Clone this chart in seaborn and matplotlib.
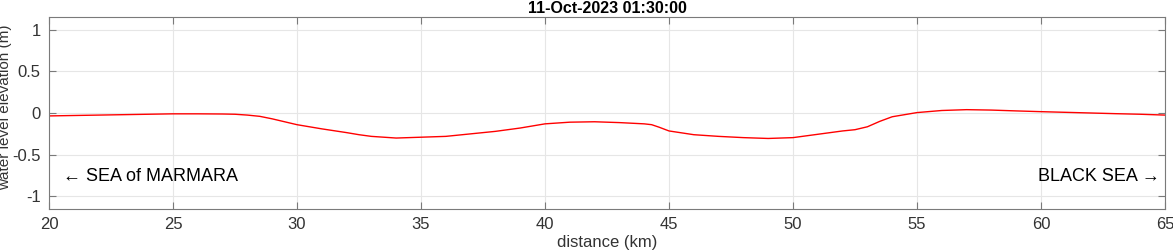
import matplotlib
matplotlib.use("Agg")
import matplotlib.pyplot as plt
import seaborn as sns
import pandas as pd

distance_km = [20, 22, 24, 25, 26, 27, 27.5, 28, 28.5, 29, 30, 31, 32, 32.5, 33, 34, 35, 36, 37, 38, 39, 40, 41, 42, 43, 44, 44.3, 44.6, 45, 46, 47, 48, 49, 50, 51, 52, 52.5, 53, 53.5, 54, 55, 56, 57, 58, 59, 60, 61, 62, 63, 64, 65]
elevation_m = [-0.035, -0.025, -0.015, -0.01, -0.01, -0.012, -0.015, -0.025, -0.04, -0.07, -0.14, -0.19, -0.235, -0.26, -0.28, -0.30, -0.29, -0.28, -0.25, -0.22, -0.18, -0.13, -0.11, -0.105, -0.115, -0.13, -0.14, -0.17, -0.215, -0.26, -0.28, -0.295, -0.305, -0.295, -0.255, -0.215, -0.2, -0.165, -0.1, -0.045, 0.005, 0.03, 0.04, 0.035, 0.025, 0.016, 0.008, 0.0, -0.008, -0.015, -0.025]

title = "11-Oct-2023 01:30:00"
left_label = "\u2190 SEA of MARMARA"
right_label = "BLACK SEA \u2192"

sns.set_theme(style="whitegrid")
plt.rcParams['font.family'] = ['Liberation Sans', 'DejaVu Sans']

df = pd.DataFrame({"distance": distance_km, "elev": elevation_m})

fig = plt.figure(figsize=(11.73, 2.5), dpi=100)
ax = fig.add_axes([49/1173, 1 - 209/250, (1165-49)/1173, (209-17)/250])
sns.lineplot(data=df, x="distance", y="elev", color="#ff0000", lw=1.0, ax=ax)

ax.set_xlim(20, 65)
ax.set_ylim(-1.15, 1.15)
ax.set_xticks(range(20, 66, 5))
ax.set_yticks([-1, -0.5, 0, 0.5, 1])
ax.set_yticklabels(["-1", "-0.5", "0", "0.5", "1"])
ax.grid(True, color="#e6e6e6", lw=0.8)
for s in ax.spines.values():
    s.set_color("#7a7a7a")
    s.set_linewidth(0.8)
ax.tick_params(direction="in", length=5, width=0.8, color="#7a7a7a",
               labelsize=12, labelcolor="#333333", top=True, right=True,
               bottom=True, left=True, pad=6)
ax.set_xlabel("distance (km)", fontsize=12, color="#333333", labelpad=2)
ax.set_ylabel("water level elevation (m)", fontsize=11, color="#333333")
ax.yaxis.set_label_coords(-0.033, 0.53)
ax.set_title(title, fontsize=11.5, fontweight="bold", color="black", pad=3)

ax.text(20.55, -0.76, left_label, fontsize=13, color="black", va="center", ha="left")
ax.text(64.8, -0.76, right_label, fontsize=13, color="black", va="center", ha="right")

fig.savefig("out.png", dpi=100)
